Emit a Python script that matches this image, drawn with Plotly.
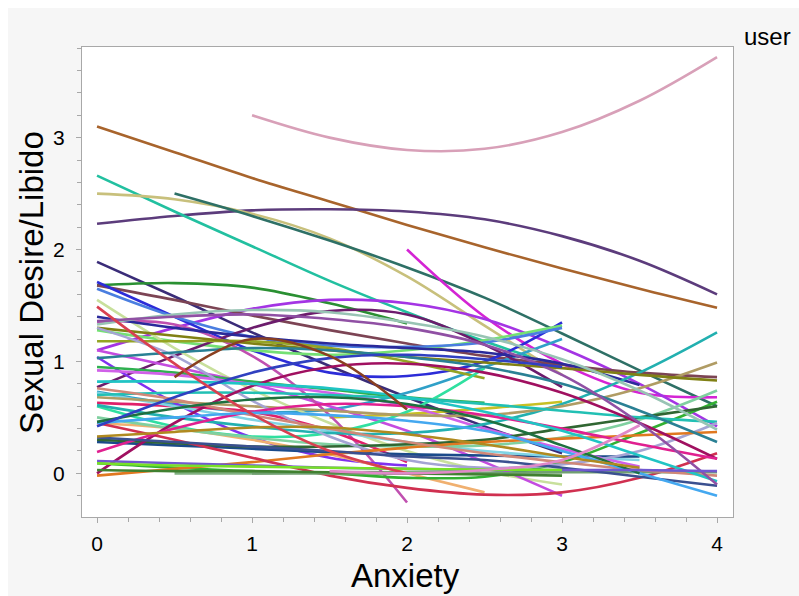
import plotly.graph_objects as go

# Anxiety levels at which each user's smoothed curve is read
anxiety_levels = [0, 0.5, 1, 1.5, 2, 2.5, 3, 3.5, 4]
N = None

# Sexual Desire/Libido per user (None = outside that user's range)
user_01 = [N, N, 3.20, 3.00, 2.89, 2.90, 3.05, 3.33, 3.72]
user_02 = [3.10, 2.87, 2.64, 2.43, 2.22, 2.02, 1.83, 1.65, 1.48]
user_03 = [2.23, 2.30, 2.35, 2.36, 2.34, 2.27, 2.12, 1.90, 1.60]
user_04 = [2.66, 2.34, 2.03, 1.72, 1.44, 1.18, 0.95, N, N]
user_05 = [2.50, 2.45, 2.32, 2.10, 1.76, 1.32, 0.88, N, N]
user_06 = [N, 2.50, 2.30, 2.08, 1.84, 1.57, 1.25, 0.92, 0.60]
user_07 = [N, N, N, N, 2.00, 1.40, 0.98, 0.72, 0.68]
user_08 = [1.89, 1.58, 1.26, 0.96, 0.68, 0.42, 0.18, N, N]
user_09 = [1.68, 1.70, 1.66, 1.52, 1.34, N, N, N, N]
user_10 = [1.10, 1.30, 1.47, 1.55, 1.52, 1.38, 1.12, 0.80, 0.42]
user_11 = [1.68, 1.55, 1.41, 1.28, 1.16, 1.05, 0.97, 0.90, 0.86]
user_12 = [1.71, 1.40, 1.10, 0.90, 0.87, 1.00, 1.35, N, N]
user_13 = [1.28, 1.18, 1.10, 1.06, 1.10, 1.19, 1.32, N, N]
user_14 = [1.65, 1.40, 1.22, 1.14, 1.13, 1.17, 1.30, N, N]
user_15 = [0.73, 0.62, 0.55, 0.57, 0.72, 0.95, 1.20, N, N]
user_16 = [0.77, 1.05, 1.30, 1.45, 1.42, 1.15, 0.77, N, N]
user_17 = [N, N, N, 0.50, 0.53, 0.58, 0.64, N, N]
user_18 = [N, 0.00, 0.00, 0.01, 0.01, 0.01, 0.01, N, N]
user_19 = [1.55, 1.12, 0.75, 0.45, 0.20, 0.02, -0.10, N, N]
user_20 = [1.10, 0.95, 0.80, 0.60, 0.38, 0.10, -0.20, N, N]
user_21 = [1.35, 1.33, 1.05, 0.52, -0.26, N, N, N, N]
user_22 = [0.63, 0.60, 0.55, 0.38, 0.10, N, N, N, N]
user_23 = [1.04, 0.63, 0.32, 0.14, 0.07, N, N, N, N]
user_24 = [0.95, 0.90, 0.82, 0.75, 0.68, 0.63, N, N, N]
user_25 = [1.18, 1.18, 1.18, 1.12, 1.00, 0.85, N, N, N]
user_26 = [0.60, 0.42, 0.33, 0.36, 0.55, 0.94, N, N, N]
user_27 = [0.45, 0.40, 0.30, 0.17, 0.00, -0.17, N, N, N]
user_28 = [0.28, 0.25, 0.22, 0.19, 0.17, 0.16, 0.15, 0.15, N]
user_29 = [0.72, 0.60, 0.48, 0.38, 0.28, 0.20, 0.15, 0.12, N]
user_30 = [0.92, 0.88, 0.80, 0.72, 0.60, 0.40, 0.22, 0.06, N]
user_31 = [1.40, 1.30, 1.22, 1.16, 1.12, 1.08, 0.98, 0.79, N]
user_32 = [0.61, 0.50, 0.42, 0.36, 0.36, 0.44, 0.62, 0.90, 1.26]
user_33 = [0.68, 0.64, 0.60, 0.56, 0.52, 0.52, 0.60, 0.76, 0.99]
user_34 = [1.30, 1.23, 1.16, 1.10, 1.04, 0.99, 0.94, 0.88, 0.83]
user_35 = [0.50, 0.40, 0.32, 0.26, 0.24, 0.25, 0.32, 0.48, 0.74]
user_36 = [0.09, 0.05, 0.02, 0.00, -0.04, -0.03, 0.10, 0.36, 0.64]
user_37 = [0.30, 0.27, 0.24, 0.24, 0.26, 0.30, 0.40, 0.50, 0.60]
user_38 = [0.70, 0.72, 0.72, 0.70, 0.67, 0.62, 0.56, 0.50, 0.46]
user_39 = [1.30, 1.05, 0.65, 0.33, 0.12, 0.05, 0.08, 0.20, 0.45]
user_40 = [1.33, 1.42, 1.46, 1.44, 1.35, 1.22, 1.02, 0.74, 0.39]
user_41 = [-0.02, 0.04, 0.10, 0.17, 0.23, 0.28, 0.31, 0.34, 0.37]
user_42 = [1.03, 1.08, 1.12, 1.10, 1.04, 0.95, 0.80, 0.56, 0.28]
user_43 = [0.45, 0.30, 0.14, -0.02, -0.13, -0.19, -0.17, -0.04, 0.18]
user_44 = [0.00, 0.45, 0.78, 0.95, 0.98, 0.90, 0.72, 0.45, 0.13]
user_45 = [0.19, 0.40, 0.55, 0.62, 0.60, 0.52, 0.40, 0.26, 0.13]
user_46 = [N, N, 0.00, 0.00, 0.00, 0.00, 0.01, 0.01, 0.01]
user_47 = [0.76, 0.66, 0.52, 0.40, 0.28, 0.18, 0.10, 0.03, -0.02]
user_48 = [0.82, 0.82, 0.80, 0.76, 0.68, 0.55, 0.38, 0.16, -0.07]
user_49 = [0.32, 0.28, 0.24, 0.20, 0.15, 0.12, 0.05, -0.03, -0.11]
user_50 = [1.36, 1.40, 1.42, 1.38, 1.30, 1.15, 0.88, 0.45, -0.10]
user_51 = [0.45, 0.50, 0.54, 0.52, 0.47, 0.38, 0.20, 0.00, -0.20]
user_52 = [0.46, 0.58, 0.66, 0.68, 0.62, 0.48, 0.25, 0.00, N]
user_53 = [0.42, 0.68, 0.90, 1.03, 1.06, 1.02, 0.95, N, N]
user_54 = [0.33, 0.37, 0.41, 0.41, 0.35, 0.26, 0.15, 0.05, N]
user_55 = [0.11, 0.09, 0.07, 0.05, 0.04, 0.03, 0.03, 0.03, 0.02]
user_56 = [0.09, 0.07, 0.06, 0.05, 0.04, 0.035, 0.03, N, N]
user_57 = [0.03, 0.02, 0.02, 0.01, 0.00, -0.01, -0.02, N, N]
user_58 = [N, 0.86, 1.20, 1.05, 0.57, N, N, N, N]
user_59 = [1.49, 0.98, 0.53, 0.20, 0.00, N, N, N, N]
user_60 = [N, N, N, 0.02, 0.00, 0.03, 0.12, 0.43, N]

users = [user_01, user_02, user_03, user_04, user_05, user_06, user_07, user_08,
         user_09, user_10, user_11, user_12, user_13, user_14, user_15, user_16,
         user_17, user_18, user_19, user_20, user_21, user_22, user_23, user_24,
         user_25, user_26, user_27, user_28, user_29, user_30, user_31, user_32,
         user_33, user_34, user_35, user_36, user_37, user_38, user_39, user_40,
         user_41, user_42, user_43, user_44, user_45, user_46, user_47, user_48,
         user_49, user_50, user_51, user_52, user_53, user_54, user_55, user_56,
         user_57, user_58, user_59, user_60]

palette = ["#d8a0b8", "#a8642c", "#5c3c7c", "#22c0a0", "#c8c07c", "#2e7066", "#d424d4", "#3a2c78",
           "#2a9032", "#a434e4", "#7c4454", "#2c2cd8", "#74e074", "#4a7ee0", "#30a0c8", "#6c1c6c",
           "#c8c024", "#80b080", "#c8e09c", "#c44ce0", "#c050b0", "#e0206a", "#8030f0", "#30b050",
           "#94a424", "#30e0a0", "#f0b070", "#1a4a8a", "#80d4e4", "#d060e8", "#2a2a9a", "#22b0b0",
           "#b09c64", "#808014", "#80d0a0", "#32b032", "#306632", "#22c0b4", "#a4a4d4", "#98c4b4",
           "#e07820", "#2a8094", "#d03050", "#a01060", "#e02090", "#70a070", "#d08878", "#20c4c4",
           "#3a5090", "#9050a4", "#44a8f0", "#1e7040", "#3040c0", "#b08a20", "#7058d0", "#78e028",
           "#408030", "#8a4020", "#d84050", "#e088c8"]

fig = go.Figure()
for i, vals in enumerate(users):
    fig.add_trace(go.Scatter(
        x=anxiety_levels, y=vals, mode="lines", name=f"{i + 1}",
        line=dict(color=palette[i], width=2.6, shape="spline", smoothing=1),
        connectgaps=False, showlegend=False, hoverinfo="skip"))

font_family = "Liberation Sans, Arial, Helvetica, sans-serif"
axis_common = dict(
    showline=True, linecolor="#a8a8a8", linewidth=1, mirror=True,
    showgrid=False, zeroline=False, ticks="outside", ticklen=5, tickwidth=1,
    tickcolor="#a8a8a8", tickfont=dict(size=21, color="#000000", family=font_family),
)

fig.update_xaxes(range=[-0.097, 4.103], tickvals=[0, 1, 2, 3, 4], ticklabelstandoff=3,
                 minor=dict(dtick=0.2, ticklen=4, ticks="outside", tickcolor="#a8a8a8"),
                 **axis_common)
fig.update_yaxes(range=[-0.39, 3.81], tickvals=[0, 1, 2, 3], ticklabelstandoff=7,
                 minor=dict(dtick=0.2, ticklen=4, ticks="outside", tickcolor="#a8a8a8"),
                 **axis_common)

fig.update_layout(
    width=791, height=588,
    margin=dict(l=74, r=66, t=39, b=79),
    paper_bgcolor="#f6f6f6", plot_bgcolor="#ffffff",
    font=dict(family=font_family, color="#000000"),
    annotations=[
        dict(text="Anxiety", xref="paper", yref="paper", x=0.497, y=-0.124,
             xanchor="center", yanchor="middle", showarrow=False,
             font=dict(size=33, family=font_family)),
        dict(text="Sexual Desire/Libido", xref="paper", yref="paper", x=-0.0785, y=0.5,
             xanchor="center", yanchor="middle", textangle=-90, showarrow=False,
             font=dict(size=33, family=font_family)),
        dict(text="user", xref="paper", yref="paper", x=1.0134, y=1.0228,
             xanchor="left", yanchor="middle", showarrow=False,
             font=dict(size=24, family=font_family)),
    ],
)

fig.write_html("out.html", post_script="document.body.style.margin='8px 0 0 8px';")
